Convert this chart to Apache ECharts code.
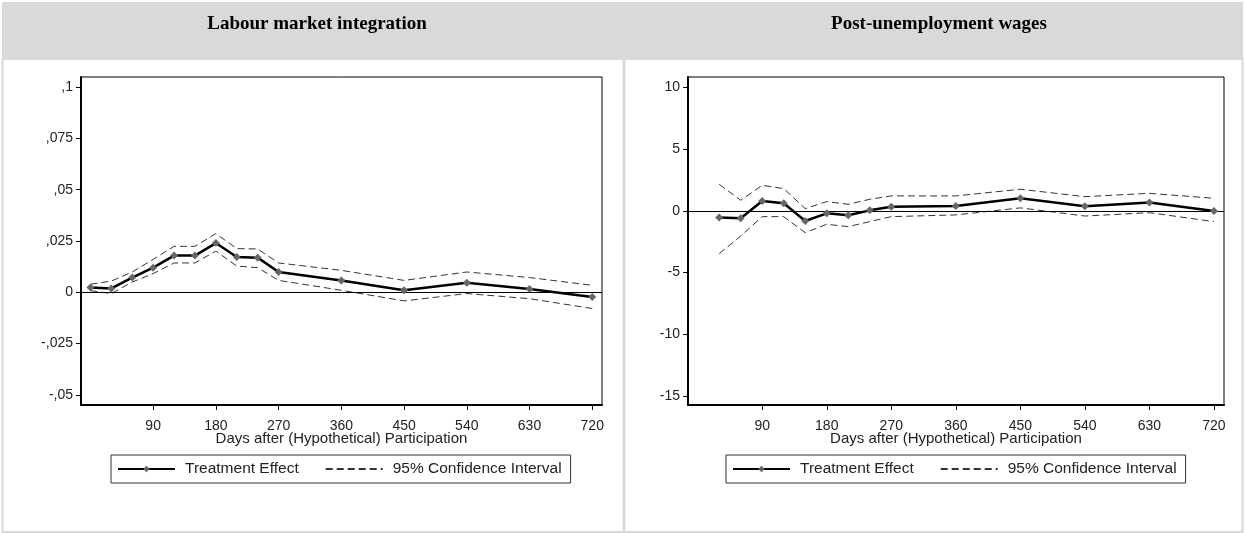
<!DOCTYPE html>
<html>
<head>
<meta charset="utf-8">
<script src="https://cdn.jsdelivr.net/npm/echarts@6/dist/echarts.min.js"></script>
<style>
  html, body { margin: 0; padding: 0; background: #fff; }
  #chart { width: 1245px; height: 533px; }
</style>
</head>
<body>
<div id="chart"></div>
<script>
// Labour market integration (left panel)
const leftDays = [0, 30, 60, 90, 120, 150, 180, 210, 240, 270, 360, 450, 540, 630, 720];
const leftEffect = [0.0023, 0.0019, 0.0072, 0.0120, 0.0179, 0.0179, 0.0240, 0.0172, 0.0169, 0.0099, 0.0058, 0.0010, 0.0047, 0.0016, -0.0023];
const leftUpper = [0.0039, 0.0055, 0.0099, 0.0160, 0.0224, 0.0224, 0.0286, 0.0213, 0.0211, 0.0143, 0.0107, 0.0058, 0.0099, 0.0072, 0.0034];
const leftLower = [0.0008, -0.0006, 0.0050, 0.0091, 0.0143, 0.0143, 0.0201, 0.0128, 0.0120, 0.0058, 0.0010, -0.0042, -0.0006, -0.0031, -0.0079];
const leftYTicks = [-0.05, -0.025, 0, 0.025, 0.05, 0.075, 0.1];
const leftYLabels = ['-,05', '-,025', '0', ',025', ',05', ',075', ',1'];

// Post-unemployment wages (right panel)
const rightDays = [30, 60, 90, 120, 150, 180, 210, 240, 270, 360, 450, 540, 630, 720];
const rightEffect = [-0.54, -0.59, 0.81, 0.62, -0.81, -0.19, -0.35, 0.05, 0.35, 0.40, 1.03, 0.38, 0.68, 0.0];
const rightUpper = [2.16, 0.87, 2.08, 1.81, 0.19, 0.76, 0.54, 0.95, 1.22, 1.22, 1.76, 1.16, 1.43, 1.03];
const rightLower = [-3.46, -2.03, -0.46, -0.46, -1.76, -1.08, -1.27, -0.86, -0.46, -0.32, 0.25, -0.41, -0.14, -0.86];
const rightYTicks = [-15, -10, -5, 0, 5, 10];
const rightYLabels = ['-15', '-10', '-5', '0', '5', '10'];

const xTicks = [90, 180, 270, 360, 450, 540, 630, 720];
const panelTitles = ['Labour market integration', 'Post-unemployment wages'];
const xName = 'Days after (Hypothetical) Participation';
const effectName = 'Treatment Effect';
const ciName = '95% Confidence Interval';

const font = 'Liberation Sans, Arial, sans-serif';
const serif = 'Liberation Serif, Times New Roman, serif';
const pairs = (xs, ys) => xs.map((x, i) => [x, ys[i]]);

const chart = echarts.init(document.getElementById('chart'));

const makeX = (gridIndex) => ({
  type: 'value',
  gridIndex,
  min: -13.5,
  max: 734,
  name: xName,
  nameLocation: 'middle',
  nameGap: 26,
  nameMoveOverlap: false,
  nameTextStyle: { color: '#222', fontSize: 15, fontFamily: font },
  splitLine: { show: false },
  axisLine: { show: true, onZero: false, lineStyle: { color: '#000', width: 2 } },
  axisTick: { show: true, length: 5, customValues: xTicks, lineStyle: { color: '#000' } },
  axisLabel: { customValues: xTicks, margin: 14, color: '#222', fontSize: 14, fontFamily: font }
});

const makeY = (gridIndex, min, max, ticks, labels) => ({
  type: 'value',
  gridIndex,
  min,
  max,
  splitLine: { show: false },
  axisLine: { show: true, onZero: false, lineStyle: { color: '#000', width: 2 } },
  axisTick: { show: true, length: 5, customValues: ticks, lineStyle: { color: '#000' } },
  axisLabel: {
    customValues: ticks,
    margin: 8,
    color: '#222',
    fontSize: 14,
    fontFamily: font,
    formatter: (v) => {
      const i = ticks.findIndex(t => Math.abs(t - v) < 1e-9);
      return i >= 0 ? labels[i] : '';
    }
  }
});

const effectSeries = (idx, xs, ys) => ({
  name: effectName,
  type: 'line',
  xAxisIndex: idx,
  yAxisIndex: idx,
  data: pairs(xs, ys),
  symbol: 'diamond',
  symbolSize: 8,
  z: 5,
  lineStyle: { color: '#000', width: 2.5 },
  itemStyle: { color: '#666' },
  markLine: {
    silent: true,
    symbol: ['none', 'none'],
    label: { show: false },
    lineStyle: { color: '#000', width: 1, type: 'solid' },
    data: [{ yAxis: 0 }]
  }
});

const ciSeries = (idx, xs, ys) => ({
  name: ciName,
  type: 'line',
  xAxisIndex: idx,
  yAxisIndex: idx,
  data: pairs(xs, ys),
  symbol: 'none',
  z: 3,
  lineStyle: { color: '#333', width: 1, type: [7, 4] },
  itemStyle: { color: '#333' }
});

const makeLegend = (left) => ({
  left,
  top: 455,
  data: [effectName, { name: ciName, itemStyle: { opacity: 0 } }],
  selectedMode: false,
  borderColor: '#333',
  borderWidth: 1,
  borderRadius: 0,
  padding: [6, 9, 6, 6],
  itemWidth: 57,
  itemHeight: 8,
  itemGap: 26,
  textStyle: { color: '#222', fontSize: 15.5, fontFamily: font, padding: [0, 0, 0, 5] }
});

chart.setOption({
  animation: false,
  graphic: [
    { type: 'rect', shape: { x: 2, y: 2, width: 1241, height: 57 }, style: { fill: '#d9d9d9' }, silent: true },
    { type: 'rect', shape: { x: 2.5, y: 59, width: 621, height: 473 }, style: { fill: 'none', stroke: '#d9d9d9', lineWidth: 2 }, silent: true },
    { type: 'rect', shape: { x: 624.5, y: 59, width: 618, height: 473 }, style: { fill: 'none', stroke: '#d9d9d9', lineWidth: 2 }, silent: true }
  ],
  title: [
    { text: panelTitles[0], left: 312, top: 10, textAlign: 'center',
      textStyle: { fontFamily: serif, fontWeight: 'bold', fontSize: 19, color: '#000' } },
    { text: panelTitles[1], left: 934, top: 10, textAlign: 'center',
      textStyle: { fontFamily: serif, fontWeight: 'bold', fontSize: 19, color: '#000' } }
  ],
  grid: [
    { left: 81, right: 643, top: 77, bottom: 128, show: true, borderColor: '#000', borderWidth: 1, backgroundColor: '#fff' },
    { left: 688, right: 21, top: 77, bottom: 128, show: true, borderColor: '#000', borderWidth: 1, backgroundColor: '#fff' }
  ],
  xAxis: [makeX(0), makeX(1)],
  yAxis: [
    makeY(0, -0.0549, 0.1049, leftYTicks, leftYLabels),
    makeY(1, -15.73, 10.86, rightYTicks, rightYLabels)
  ],
  legend: [makeLegend(111), makeLegend(726)],
  series: [
    ciSeries(0, leftDays, leftUpper),
    ciSeries(0, leftDays, leftLower),
    effectSeries(0, leftDays, leftEffect),
    ciSeries(1, rightDays, rightUpper),
    ciSeries(1, rightDays, rightLower),
    effectSeries(1, rightDays, rightEffect)
  ]
});
</script>
</body>
</html>
